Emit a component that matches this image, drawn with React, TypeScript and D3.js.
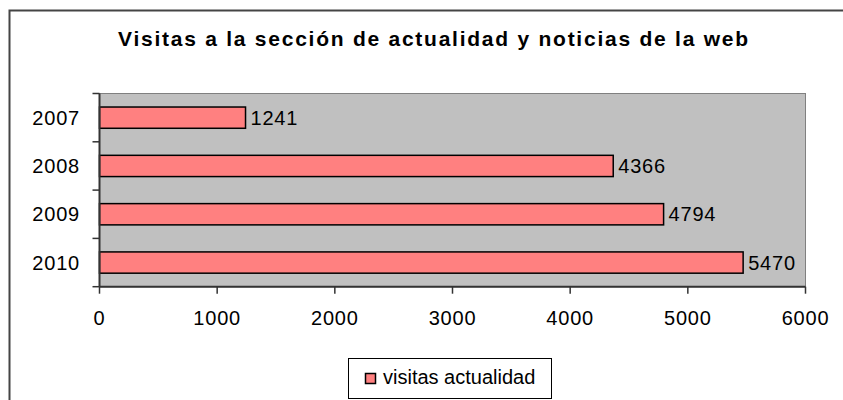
import { useEffect, useRef } from 'react';
import * as d3 from 'd3';

const years = ['2007', '2008', '2009', '2010'];
const visits = [1241, 4366, 4794, 5470];
const xTicks = [0, 1000, 2000, 3000, 4000, 5000, 6000];
const seriesName = 'visitas actualidad';
const title = 'Visitas a la sección de actualidad y noticias de la web';

const FONT = 'Arial, "Liberation Sans", sans-serif';

export default function App() {
  const svgRef = useRef<SVGSVGElement | null>(null);

  useEffect(() => {
    if (!svgRef.current) return;
    const svg = d3.select(svgRef.current);
    svg.selectAll('*').remove();

    const left = 99.5, right = 805.5, top = 93.5, bottom = 286.7;

    // outer chart frame (only top and left edges show in the crop)
    svg.append('path')
      .attr('d', 'M9.5,400 L9.5,10.5 L843,10.5')
      .attr('fill', 'none')
      .attr('stroke', '#444')
      .attr('stroke-width', 2);

    svg.append('text')
      .attr('x', 433)
      .attr('y', 45.5)
      .attr('text-anchor', 'middle')
      .attr('textLength', 630)
      .attr('lengthAdjust', 'spacing')
      .style('font-family', FONT)
      .style('font-weight', 'bold')
      .style('font-size', '21px')
      .text(title);

    const x = d3.scaleLinear().domain([0, 6000]).range([left, right]);
    const y = d3.scaleBand().domain(years).range([top, bottom]).paddingInner(0.56).paddingOuter(0.28);
    const step = y.step();

    svg.append('rect')
      .attr('x', left).attr('y', top)
      .attr('width', right - left).attr('height', bottom - top)
      .attr('fill', '#c0c0c0')
      .attr('stroke', '#808080')
      .attr('stroke-width', 1);

    svg.selectAll('rect.bar')
      .data(visits)
      .join('rect')
      .attr('class', 'bar')
      .attr('x', x(0))
      .attr('y', (_, i) => y(years[i])!)
      .attr('width', d => x(d) - x(0))
      .attr('height', y.bandwidth())
      .attr('fill', '#ff8080')
      .attr('stroke', '#000')
      .attr('stroke-width', 1.5);

    svg.selectAll('text.val')
      .data(visits)
      .join('text')
      .attr('class', 'val')
      .attr('x', d => x(d) + 5)
      .attr('y', (_, i) => y(years[i])! + y.bandwidth() / 2 + 7)
      .style('font-family', FONT)
      .style('font-size', '20px')
      .style('letter-spacing', '0.8px')
      .text(d => d);

    // y axis
    const yAxis = svg.append('g');
    yAxis.append('line')
      .attr('x1', left).attr('x2', left).attr('y1', top).attr('y2', bottom)
      .attr('stroke', '#333').attr('stroke-width', 2);
    yAxis.selectAll('line.tick')
      .data(d3.range(years.length + 1))
      .join('line')
      .attr('class', 'tick')
      .attr('x1', left - 7).attr('x2', left)
      .attr('y1', i => top + i * step).attr('y2', i => top + i * step)
      .attr('stroke', '#333').attr('stroke-width', 1.5);
    yAxis.selectAll('text')
      .data(years)
      .join('text')
      .attr('x', 80)
      .attr('y', d => y(d)! + y.bandwidth() / 2 + 7)
      .attr('text-anchor', 'end')
      .style('font-family', FONT)
      .style('font-size', '20px')
      .style('letter-spacing', '0.8px')
      .text(d => d);

    // x axis
    const xAxis = svg.append('g');
    xAxis.append('line')
      .attr('x1', left).attr('x2', right).attr('y1', bottom).attr('y2', bottom)
      .attr('stroke', '#333').attr('stroke-width', 2);
    xAxis.selectAll('line.tick')
      .data(xTicks)
      .join('line')
      .attr('class', 'tick')
      .attr('x1', d => x(d)).attr('x2', d => x(d))
      .attr('y1', bottom).attr('y2', bottom + 7)
      .attr('stroke', '#333').attr('stroke-width', 1.5);
    xAxis.selectAll('text')
      .data(xTicks)
      .join('text')
      .attr('x', d => x(d))
      .attr('y', 325)
      .attr('text-anchor', 'middle')
      .style('font-family', FONT)
      .style('font-size', '20px')
      .style('letter-spacing', '0.8px')
      .text(d => d);

    // legend
    const lg = svg.append('g');
    lg.append('rect')
      .attr('x', 348.5).attr('y', 358.5).attr('width', 203).attr('height', 40)
      .attr('fill', '#fff').attr('stroke', '#000').attr('stroke-width', 1);
    lg.append('rect')
      .attr('x', 365.5).attr('y', 373.5).attr('width', 10).attr('height', 10)
      .attr('fill', '#ff8080').attr('stroke', '#000').attr('stroke-width', 1.5);
    lg.append('text')
      .attr('x', 383).attr('y', 384)
      .style('font-family', FONT)
      .style('font-size', '20px')
      .text(seriesName);
  }, []);

  return (
    <div style={{ position: 'absolute', left: 0, top: 0, width: 843, height: 400, background: '#fff' }}>
      <svg ref={svgRef} width={843} height={400} style={{ display: 'block' }} />
    </div>
  );
}
